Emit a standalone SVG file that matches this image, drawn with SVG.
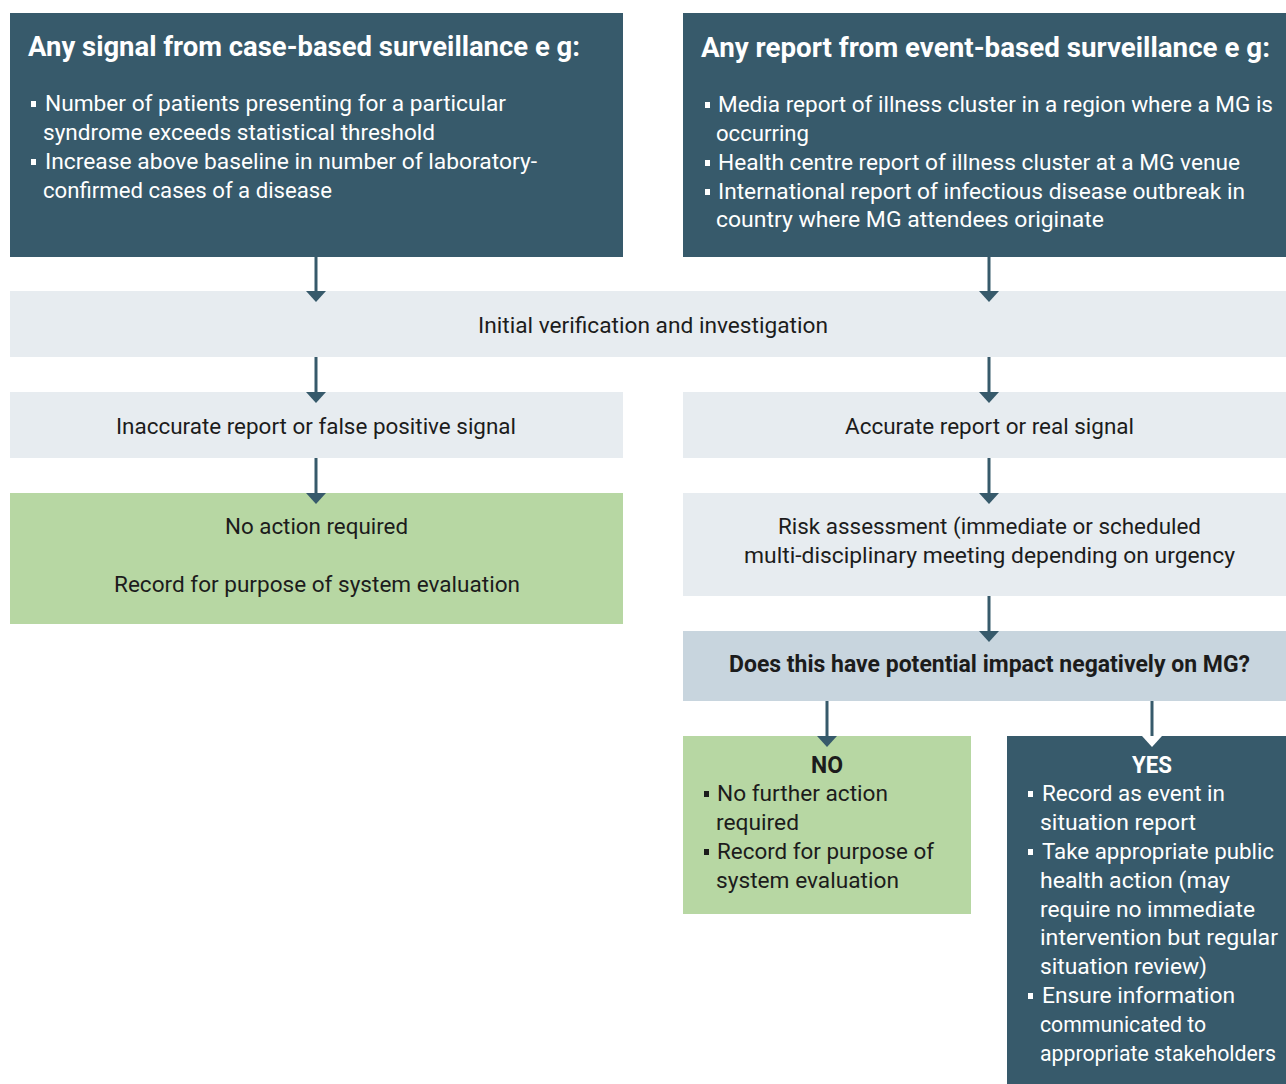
<svg xmlns="http://www.w3.org/2000/svg" width="1286" height="1084" viewBox="0 0 1286 1084">
<style>
.dark{fill:#375a6b}
.light{fill:#e7ecf0}
.q{fill:#c8d5de}
.green{fill:#b7d7a3}
text{font-family:Roboto,"Noto Sans","Liberation Sans",sans-serif;font-size:22px}
.w{fill:#ffffff}
.k{fill:#1c1c1c}
.b{font-weight:bold;font-size:23px}
.title{font-size:28px;font-weight:bold}
.mid{text-anchor:middle}
.bw{fill:#ffffff}
.bk{fill:#1c1c1c}
.conn{stroke:#375a6b;stroke-width:3;fill:none}
</style>
<defs>
<marker id="ah" markerUnits="userSpaceOnUse" viewBox="0 -10 11 20" refX="0" refY="0" markerWidth="11" markerHeight="20" orient="auto">
<path d="M0,-10 L11,0 L0,10 Z" fill="#375a6b"/>
</marker>
<marker id="ahw" markerUnits="userSpaceOnUse" viewBox="0 -10 11 20" refX="0" refY="0" markerWidth="11" markerHeight="20" orient="auto">
<path d="M0,-10 L11,0 L0,10 Z" fill="#ffffff"/>
</marker>
</defs>

<g id="case-based">
<rect class="dark" x="10" y="13" width="613" height="244"/>
<text class="w title" x="28" y="56" textLength="552" lengthAdjust="spacingAndGlyphs">Any signal from case-based surveillance e g:</text>
<rect class="bw" x="31" y="101" width="5" height="6"/>
<text class="w" x="45" y="111" textLength="461" lengthAdjust="spacingAndGlyphs">Number of patients presenting for a particular</text>
<text class="w" x="43" y="140" textLength="392" lengthAdjust="spacingAndGlyphs">syndrome exceeds statistical threshold</text>
<rect class="bw" x="31" y="159" width="5" height="6"/>
<text class="w" x="45" y="169" textLength="492" lengthAdjust="spacingAndGlyphs">Increase above baseline in number of laboratory-</text>
<text class="w" x="43" y="198" textLength="289" lengthAdjust="spacingAndGlyphs">confirmed cases of a disease</text>
</g>

<g id="event-based">
<rect class="dark" x="683" y="13" width="603" height="244"/>
<text class="w title" x="701" y="57" textLength="569" lengthAdjust="spacingAndGlyphs">Any report from event-based surveillance e g:</text>
<rect class="bw" x="705" y="102" width="5" height="6"/>
<text class="w" x="718" y="112" textLength="555" lengthAdjust="spacingAndGlyphs">Media report of illness cluster in a region where a MG is</text>
<text class="w" x="716" y="141" textLength="93" lengthAdjust="spacingAndGlyphs">occurring</text>
<rect class="bw" x="705" y="160" width="5" height="6"/>
<text class="w" x="718" y="170" textLength="522" lengthAdjust="spacingAndGlyphs">Health centre report of illness cluster at a MG venue</text>
<rect class="bw" x="705" y="189" width="5" height="6"/>
<text class="w" x="718" y="199" textLength="527" lengthAdjust="spacingAndGlyphs">International report of infectious disease outbreak in</text>
<text class="w" x="716" y="227" textLength="388" lengthAdjust="spacingAndGlyphs">country where MG attendees originate</text>
</g>

<g id="initial-verification">
<rect class="light" x="10" y="291" width="1276" height="66"/>
<text class="k mid" x="653" y="333" textLength="350" lengthAdjust="spacingAndGlyphs">Initial verification and investigation</text>
</g>

<g id="inaccurate">
<rect class="light" x="10" y="392" width="613" height="66"/>
<text class="k mid" x="316" y="434" textLength="400" lengthAdjust="spacingAndGlyphs">Inaccurate report or false positive signal</text>
</g>

<g id="accurate">
<rect class="light" x="683" y="392" width="603" height="66"/>
<text class="k mid" x="989.5" y="434" textLength="289" lengthAdjust="spacingAndGlyphs">Accurate report or real signal</text>
</g>

<g id="no-action">
<rect class="green" x="10" y="493" width="613" height="131"/>
<text class="k mid" x="316.5" y="534" textLength="183" lengthAdjust="spacingAndGlyphs">No action required</text>
<text class="k mid" x="317" y="592" textLength="406" lengthAdjust="spacingAndGlyphs">Record for purpose of system evaluation</text>
</g>

<g id="risk-assessment">
<rect class="light" x="683" y="493" width="603" height="103"/>
<text class="k mid" x="989.5" y="534" textLength="423" lengthAdjust="spacingAndGlyphs">Risk assessment (immediate or scheduled</text>
<text class="k mid" x="989.5" y="563" textLength="491" lengthAdjust="spacingAndGlyphs">multi-disciplinary meeting depending on urgency</text>
</g>

<g id="question">
<rect class="q" x="683" y="631" width="603" height="70"/>
<text class="k b mid" x="989.5" y="672" textLength="521" lengthAdjust="spacingAndGlyphs">Does this have potential impact negatively on MG?</text>
</g>

<g id="no">
<rect class="green" x="683" y="736" width="288" height="178"/>
<text class="k b mid" x="827" y="773" textLength="32" lengthAdjust="spacingAndGlyphs">NO</text>
<rect class="bk" x="704" y="791" width="5" height="6"/>
<text class="k" x="717" y="801" textLength="171" lengthAdjust="spacingAndGlyphs">No further action</text>
<text class="k" x="716" y="830" textLength="83" lengthAdjust="spacingAndGlyphs">required</text>
<rect class="bk" x="704" y="849" width="5" height="6"/>
<text class="k" x="717" y="859" textLength="217" lengthAdjust="spacingAndGlyphs">Record for purpose of</text>
<text class="k" x="716" y="888" textLength="183" lengthAdjust="spacingAndGlyphs">system evaluation</text>
</g>

<g id="yes">
<rect class="dark" x="1007" y="736" width="279" height="348"/>
<text class="w b mid" x="1152" y="773" textLength="40" lengthAdjust="spacingAndGlyphs">YES</text>
<rect class="bw" x="1028" y="791" width="5" height="6"/>
<text class="w" x="1042" y="801" textLength="183" lengthAdjust="spacingAndGlyphs">Record as event in</text>
<text class="w" x="1040" y="830" textLength="156" lengthAdjust="spacingAndGlyphs">situation report</text>
<rect class="bw" x="1028" y="849" width="5" height="6"/>
<text class="w" x="1042" y="859" textLength="232" lengthAdjust="spacingAndGlyphs">Take appropriate public</text>
<text class="w" x="1040" y="888" textLength="190" lengthAdjust="spacingAndGlyphs">health action (may</text>
<text class="w" x="1040" y="917" textLength="215" lengthAdjust="spacingAndGlyphs">require no immediate</text>
<text class="w" x="1040" y="945" textLength="238" lengthAdjust="spacingAndGlyphs">intervention but regular</text>
<text class="w" x="1040" y="974" textLength="167" lengthAdjust="spacingAndGlyphs">situation review)</text>
<rect class="bw" x="1028" y="993" width="5" height="6"/>
<text class="w" x="1042" y="1003" textLength="193" lengthAdjust="spacingAndGlyphs">Ensure information</text>
<text class="w" x="1040" y="1032" textLength="166" lengthAdjust="spacingAndGlyphs">communicated to</text>
<text class="w" x="1040" y="1061" textLength="236" lengthAdjust="spacingAndGlyphs">appropriate stakeholders</text>
</g>

<g id="connectors">
<line class="conn" x1="316" y1="257" x2="316" y2="291" marker-end="url(#ah)"/>
<line class="conn" x1="989" y1="257" x2="989" y2="291" marker-end="url(#ah)"/>
<line class="conn" x1="316" y1="357" x2="316" y2="392" marker-end="url(#ah)"/>
<line class="conn" x1="989" y1="357" x2="989" y2="392" marker-end="url(#ah)"/>
<line class="conn" x1="316" y1="458" x2="316" y2="493" marker-end="url(#ah)"/>
<line class="conn" x1="989" y1="458" x2="989" y2="493" marker-end="url(#ah)"/>
<line class="conn" x1="989" y1="596" x2="989" y2="631" marker-end="url(#ah)"/>
<line class="conn" x1="827" y1="701" x2="827" y2="736" marker-end="url(#ah)"/>
<line class="conn" x1="1152" y1="701" x2="1152" y2="736" marker-end="url(#ahw)"/>
</g>
</svg>
